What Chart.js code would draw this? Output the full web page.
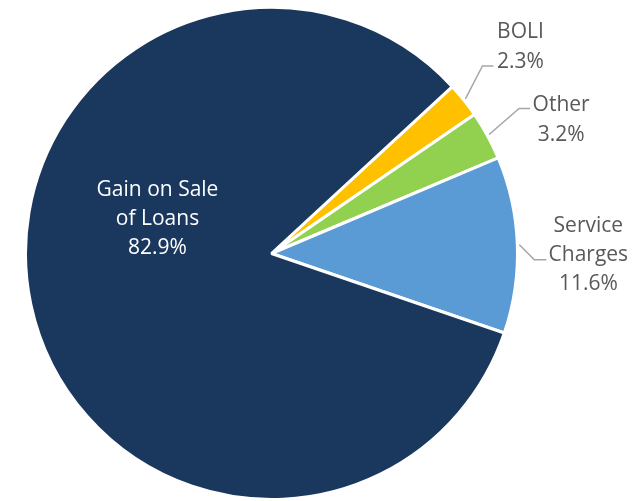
<!DOCTYPE html>
<html>
<head>
<meta charset="utf-8">
<script src="https://cdn.jsdelivr.net/npm/chart.js@4/dist/chart.umd.min.js"></script>
<style>
  body { margin: 0; background: #fff; }
  #wrap { width: 643px; height: 501px; }
</style>
</head>
<body>
<div id="wrap"><canvas id="myChart" width="643" height="501"></canvas></div>
<script>
  // slice names (one entry per label line) and their shares in percent
  const categories = [['BOLI'], ['Other'], ['Service', 'Charges'], ['Gain on Sale', 'of Loans']];
  const shares = [2.3, 3.2, 11.6, 82.9];
  const sliceColors = ['#FFC000', '#92D050', '#5B9BD5', '#1A375E'];

  // where each label goes, relative to the slice it belongs to
  // leader: [dx, dy] of the elbow from the edge point, then horizontal run
  const labelLayout = [
    { leader: [17, -33], run: 11, textDx: 27, textDy: -34, lh: 30, color: '#595959' },
    { leader: [30, -26], run: 11, textDx: 31, textDy: -4, lh: 30, color: '#595959' },
    { leader: [15, 15], run: 12, textDx: 42, textDy: -34, lh: 29, color: '#595959' },
    { inside: [-114, -63], lh: 29, color: '#FFFFFF' }
  ];

  // draw the labels and the leader lines after the slices
  const sliceLabels = {
    id: 'sliceLabels',
    afterDatasetsDraw(chart) {
      const ctx = chart.ctx;
      const arcs = chart.getDatasetMeta(0).data;
      ctx.save();
      ctx.font = '21px "Open Sans", sans-serif';
      ctx.textAlign = 'center';
      ctx.textBaseline = 'middle';
      arcs.forEach(function(arc, i) {
        const p = arc.getProps(['x', 'y', 'startAngle', 'endAngle', 'outerRadius'], true);
        const lay = labelLayout[i];
        const lines = categories[i].concat([shares[i].toFixed(1) + '%']);
        let tx, ty;
        if (lay.inside) {
          tx = p.x + lay.inside[0];
          ty = p.y + lay.inside[1];
        } else {
          const mid = (p.startAngle + p.endAngle) / 2;
          const ax = p.x + Math.cos(mid) * (p.outerRadius + 2);
          const ay = p.y + Math.sin(mid) * (p.outerRadius + 2);
          const ex = ax + lay.leader[0];
          const ey = ay + lay.leader[1];
          ctx.strokeStyle = '#A6A6A6';
          ctx.lineWidth = 1.5;
          ctx.beginPath();
          ctx.moveTo(ax, ay);
          ctx.lineTo(ex, ey);
          ctx.lineTo(ex + lay.run, ey);
          ctx.stroke();
          tx = ex + lay.run + lay.textDx;
          ty = ey + lay.textDy;
        }
        ctx.fillStyle = lay.color;
        lines.forEach(function(line, k) {
          ctx.fillText(line, tx, ty + k * lay.lh);
        });
      });
      ctx.restore();
    }
  };

  const canvas = document.getElementById('myChart');
  const chart = new Chart(canvas, {
    type: 'pie',
    data: {
      labels: categories.map(function(c) { return c.join(' '); }),
      datasets: [{
        data: shares,
        backgroundColor: sliceColors,
        borderColor: '#FFFFFF',
        borderWidth: 3
      }]
    },
    options: {
      responsive: false,
      devicePixelRatio: 1,
      animation: false,
      rotation: 47.3,
      layout: { padding: { left: 24, right: 124, top: 6, bottom: 0 } },
      plugins: {
        legend: { display: false },
        tooltip: { enabled: false }
      }
    },
    plugins: [sliceLabels]
  });
</script>
</body>
</html>
